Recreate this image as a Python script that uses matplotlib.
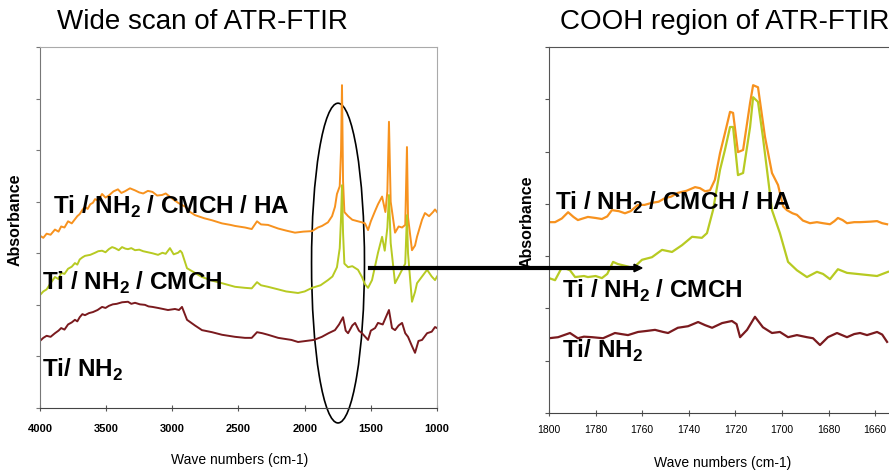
import matplotlib
matplotlib.use("Agg")
import matplotlib.pyplot as plt
from matplotlib.patches import Ellipse, FancyArrow

plt.rcParams['font.family'] = ['Liberation Sans', 'DejaVu Sans']
plt.rcParams['mathtext.fontset'] = 'custom'
plt.rcParams['mathtext.rm'] = 'Liberation Sans'
plt.rcParams['mathtext.bf'] = 'Liberation Sans:bold'

# ---- wide scan (4000-1000 cm-1) ----
wide_ha_wn = [4000, 3975, 3950, 3920, 3887, 3860, 3840, 3815, 3788, 3760, 3736, 3718, 3700, 3680,
              3660, 3640, 3620, 3600, 3584, 3560, 3531, 3505, 3480, 3445, 3411, 3385, 3360, 3320,
              3282, 3250, 3220, 3185, 3150, 3115, 3078, 3050, 3020, 2990, 2957, 2930, 2900, 2865,
              2829, 2760, 2700, 2625, 2560, 2526, 2451, 2400, 2360, 2330, 2277, 2200, 2140, 2073,
              2010, 1944, 1900, 1869, 1824, 1793, 1771, 1756, 1735, 1725, 1718, 1710, 1700, 1672,
              1640, 1597, 1567, 1544, 1521, 1500, 1468, 1446, 1415, 1390, 1375, 1363, 1350, 1317,
              1290, 1264, 1240, 1227, 1219, 1189, 1166, 1151, 1113, 1091, 1060, 1030, 1015, 1000]
wide_ha_abs = [3.34, 3.30, 3.38, 3.36, 3.46, 3.42, 3.52, 3.50, 3.62, 3.58, 3.66, 3.72, 3.76, 3.84,
               3.90, 3.86, 3.95, 3.98, 4.05, 4.02, 4.15, 4.08, 4.12, 4.20, 4.24, 4.17, 4.20, 4.26,
               4.22, 4.18, 4.16, 4.21, 4.19, 4.12, 4.13, 4.16, 4.10, 4.04, 3.98, 3.94, 3.90, 3.80,
               3.74, 3.68, 3.64, 3.58, 3.55, 3.53, 3.50, 3.47, 3.62, 3.56, 3.55, 3.48, 3.44, 3.40,
               3.42, 3.43, 3.50, 3.53, 3.60, 3.72, 3.90, 4.15, 4.30, 5.00, 6.26, 4.40, 3.80, 3.72,
               3.65, 3.62, 3.60, 3.58, 3.45, 3.62, 3.82, 3.95, 4.10, 3.80, 4.20, 5.55, 4.00, 3.40,
               3.52, 3.50, 3.55, 5.06, 3.70, 3.06, 3.15, 3.32, 3.65, 3.78, 3.72, 3.80, 3.85, 3.80]

wide_cmch_wn = [4000, 3975, 3950, 3920, 3887, 3860, 3840, 3815, 3788, 3760, 3736, 3718, 3700, 3680,
                3660, 3620, 3584, 3560, 3531, 3505, 3480, 3455, 3433, 3405, 3380, 3355, 3335, 3310,
                3282, 3250, 3220, 3185, 3150, 3108, 3075, 3050, 3018, 2990, 2957, 2940, 2927, 2889,
                2829, 2776, 2700, 2625, 2526, 2451, 2400, 2360, 2330, 2277, 2200, 2140, 2050, 2000,
                1944, 1880, 1824, 1790, 1771, 1756, 1735, 1725, 1718, 1710, 1700, 1672, 1640, 1597,
                1567, 1544, 1521, 1491, 1468, 1446, 1415, 1395, 1375, 1363, 1350, 1317, 1290, 1264,
                1240, 1227, 1219, 1189, 1166, 1151, 1113, 1075, 1040, 1015, 1000]
wide_cmch_abs = [2.19, 2.26, 2.30, 2.42, 2.54, 2.50, 2.62, 2.60, 2.70, 2.74, 2.81, 2.78, 2.88, 2.92,
                 2.95, 2.97, 3.01, 3.04, 3.05, 3.02, 3.08, 3.12, 3.10, 3.06, 3.12, 3.09, 3.08, 3.10,
                 3.06, 3.07, 3.04, 3.02, 3.00, 2.97, 3.01, 2.99, 3.10, 2.98, 3.01, 3.05, 3.01, 2.71,
                 2.62, 2.54, 2.47, 2.42, 2.35, 2.33, 2.32, 2.44, 2.38, 2.35, 2.30, 2.26, 2.23, 2.26,
                 2.33, 2.38, 2.48, 2.55, 2.65, 2.73, 3.10, 3.70, 4.32, 3.40, 2.80, 2.73, 2.75, 2.68,
                 2.54, 2.40, 2.33, 2.48, 2.75, 3.01, 3.32, 3.05, 3.50, 4.13, 3.20, 2.42, 2.55, 2.68,
                 2.80, 3.74, 3.00, 2.06, 2.25, 2.42, 2.55, 2.68, 2.55, 2.48, 2.55]

wide_nh2_wn = [4000, 3975, 3950, 3920, 3887, 3860, 3840, 3815, 3788, 3760, 3736, 3718, 3700, 3680,
               3660, 3630, 3600, 3565, 3531, 3505, 3480, 3450, 3420, 3380, 3335, 3310, 3282, 3245,
               3207, 3180, 3150, 3108, 3070, 3033, 2980, 2950, 2927, 2889, 2829, 2776, 2700, 2625,
               2526, 2451, 2400, 2360, 2320, 2277, 2200, 2100, 2050, 1990, 1930, 1870, 1820, 1771,
               1740, 1710, 1690, 1672, 1640, 1619, 1590, 1567, 1521, 1500, 1468, 1446, 1410, 1363,
               1340, 1317, 1290, 1264, 1240, 1219, 1189, 1166, 1140, 1113, 1075, 1040, 1015, 1000]
wide_nh2_abs = [1.30, 1.36, 1.40, 1.38, 1.45, 1.50, 1.55, 1.52, 1.62, 1.66, 1.71, 1.68, 1.76, 1.82,
                1.80, 1.84, 1.86, 1.90, 1.96, 1.94, 1.98, 2.01, 2.02, 2.05, 2.06, 2.02, 2.04, 2.01,
                2.00, 1.97, 1.96, 1.94, 1.92, 1.90, 1.92, 1.90, 1.96, 1.71, 1.60, 1.51, 1.47, 1.42,
                1.38, 1.36, 1.36, 1.47, 1.45, 1.42, 1.36, 1.32, 1.28, 1.30, 1.32, 1.38, 1.45, 1.51,
                1.62, 1.76, 1.50, 1.45, 1.60, 1.65, 1.50, 1.45, 1.32, 1.50, 1.55, 1.65, 1.62, 1.90,
                1.55, 1.51, 1.60, 1.65, 1.45, 1.38, 1.20, 1.07, 1.30, 1.32, 1.45, 1.48, 1.57, 1.55]

# ---- COOH region (1800-1650 cm-1) ----
cooh_ha_wn = [1800, 1797.4, 1794.5, 1791.8, 1789.5, 1787.6, 1785.5, 1783.3, 1780, 1777.3, 1775, 1773,
              1770, 1767.4, 1765, 1761.8, 1759, 1755.8, 1753, 1750.2, 1747.5, 1744.7, 1741, 1737.3,
              1735.2, 1733.0, 1730.9, 1728.8, 1726.6, 1724.5, 1722.3, 1721.0, 1718.9, 1716.7,
              1713.7, 1712.4, 1710.3, 1707.3, 1704.3, 1701.7, 1699.5, 1697.9, 1695.5, 1693.6, 1691,
              1688, 1685, 1682.4, 1679.4, 1677.5, 1676, 1674, 1672.1, 1669, 1666.5, 1662, 1659.2,
              1657, 1654.9]
cooh_ha_abs = [3.65, 3.65, 3.72, 3.84, 3.75, 3.69, 3.72, 3.75, 3.73, 3.71, 3.76, 3.88,
               3.86, 3.82, 3.86, 3.98, 3.98, 4.02, 4.04, 4.11, 4.14, 4.21, 4.25, 4.32,
               4.30, 4.24, 4.26, 4.46, 4.97, 5.35, 5.76, 5.74, 4.99, 5.03,
               5.93, 6.27, 6.23, 5.28, 4.59, 4.36, 3.95, 3.88, 3.82, 3.79, 3.68,
               3.63, 3.65, 3.63, 3.61, 3.67, 3.73, 3.69, 3.63, 3.65, 3.65, 3.66, 3.67,
               3.63, 3.61]

cooh_cmch_wn = [1800, 1797.4, 1794.4, 1791.0, 1788.8, 1785, 1783.3, 1780, 1777.3, 1775, 1772.5, 1770.5,
                1768.7, 1766, 1763.9, 1760.1, 1755.8, 1751.5, 1747.2, 1742.9, 1738.6, 1734.4, 1732.2,
                1729.6, 1726.6, 1724.5, 1722.3, 1721.0, 1718.9, 1716.7, 1713.7, 1712.4, 1710.3,
                1708.2, 1704.3, 1700.9, 1697.4, 1693.6, 1689.3, 1685.0, 1682.4, 1679.4, 1676.0,
                1672.1, 1667.8, 1663.5, 1659.2, 1654.5]
cooh_cmch_abs = [2.58, 2.54, 2.79, 2.73, 2.60, 2.62, 2.60, 2.62, 2.58, 2.66, 2.89, 2.85,
                 2.83, 2.80, 2.77, 2.93, 2.98, 3.12, 3.08, 3.21, 3.37, 3.35, 3.44,
                 3.88, 4.65, 5.03, 5.47, 5.47, 4.55, 4.59, 5.47, 6.04, 5.95,
                 5.28, 3.88, 3.44, 2.89, 2.73, 2.60, 2.70, 2.66, 2.56, 2.75,
                 2.68, 2.66, 2.64, 2.62, 2.70]

cooh_nh2_wn = [1800, 1796.1, 1791, 1787.6, 1785, 1781.5, 1776.8, 1771.7, 1769, 1766.1, 1761.8, 1758,
               1754.5, 1751, 1748.9, 1744.7, 1740.3, 1736.0, 1733, 1730.0, 1725.7, 1721.5, 1719.5,
               1718.0, 1715.0, 1711.6, 1708.2, 1704.3, 1700.9, 1697.4, 1693.6, 1689.3, 1686.7,
               1683.7, 1680.3, 1676.4, 1672.1, 1669, 1666.5, 1663.5, 1659.2, 1657, 1654.9]
cooh_nh2_abs = [1.43, 1.45, 1.53, 1.43, 1.46, 1.45, 1.43, 1.53, 1.51, 1.49, 1.55, 1.57,
                1.59, 1.55, 1.53, 1.63, 1.66, 1.74, 1.68, 1.63, 1.72, 1.76, 1.70,
                1.45, 1.59, 1.84, 1.64, 1.53, 1.55, 1.45, 1.49, 1.45, 1.43,
                1.30, 1.45, 1.53, 1.45, 1.51, 1.53, 1.49, 1.55, 1.50, 1.36]

c_ha = '#F7921E'
c_cmch = '#B7CA22'
c_nh2 = '#7A1A1E'

lab_ha = r'Ti / NH$_\mathbf{2}$ / CMCH / HA'
lab_cmch = r'Ti / NH$_\mathbf{2}$ / CMCH'
lab_nh2 = r'Ti/ NH$_\mathbf{2}$'

fig = plt.figure(figsize=(8.89, 4.72), dpi=100)
ax1 = fig.add_axes([40 / 889, 64 / 472, 397 / 889, 361 / 472])
ax2 = fig.add_axes([549 / 889, 59 / 472, 349.5 / 889, 366 / 472])

# left panel
ax1.plot(wide_ha_wn, wide_ha_abs, color=c_ha, lw=1.4)
ax1.plot(wide_cmch_wn, wide_cmch_abs, color=c_cmch, lw=1.4)
ax1.plot(wide_nh2_wn, wide_nh2_abs, color=c_nh2, lw=1.4)
ax1.set_xlim(4000, 1000)
ax1.set_ylim(0, 7)
ax1.set_xticks([4000, 3500, 3000, 2500, 2000, 1500, 1000])
ax1.set_yticks(range(8))
ax1.set_yticklabels([])
for lab in ax1.get_xticklabels():
    lab.set_fontweight('bold')
    lab.set_fontsize(8)
for sp in ax1.spines.values():
    sp.set_color('#aaaaaa')
ax1.spines['left'].set_color('#777777')
ax1.spines['bottom'].set_color('#444444')
ax1.tick_params(axis='x', direction='inout', length=5, color='#555555', pad=9)
ax1.tick_params(axis='y', direction='out', length=3, color='#777777')

ax1.text(3902, 3.76, lab_ha, fontsize=17.5, fontweight='bold', va='baseline', zorder=5)
ax1.text(3985, 2.29, lab_cmch, fontsize=17.5, fontweight='bold', va='baseline', zorder=5)
ax1.text(3985, 0.60, lab_nh2, fontsize=17.5, fontweight='bold', va='baseline', zorder=5)

ax1.add_patch(Ellipse((1748, 2.81), 400, 6.2, fill=False, ec='black', lw=1.2, clip_on=False))

# right panel
ax2.plot(cooh_ha_wn, cooh_ha_abs, color=c_ha, lw=1.6)
ax2.plot(cooh_cmch_wn, cooh_cmch_abs, color=c_cmch, lw=1.6)
ax2.plot(cooh_nh2_wn, cooh_nh2_abs, color=c_nh2, lw=1.6)
ax2.set_xlim(1800, 1650)
ax2.set_ylim(0, 7)
ax2.set_xticks([1800, 1780, 1760, 1740, 1720, 1700, 1680, 1660])
ax2.set_yticks(range(8))
ax2.set_yticklabels([])
for lab in ax2.get_xticklabels():
    lab.set_fontsize(7.5)
for sp in ax2.spines.values():
    sp.set_color('#555555')
ax2.spines['bottom'].set_color('#444444')
ax2.tick_params(axis='x', direction='inout', length=5, color='#555555', pad=6)
ax2.tick_params(axis='y', direction='out', length=3, color='#555555')

ax2.text(1797.4, 3.88, lab_ha, fontsize=17.5, fontweight='bold', va='baseline', zorder=5)
ax2.text(1794.4, 2.20, lab_cmch, fontsize=17.5, fontweight='bold', va='baseline', zorder=5)
ax2.text(1794.4, 1.05, lab_nh2, fontsize=17.5, fontweight='bold', va='baseline', zorder=5)

# titles and axis labels
fig.text(57 / 889, 1 - 29 / 472, 'Wide scan of ATR-FTIR', fontsize=20, va='baseline')
fig.text(560 / 889, 1 - 29 / 472, 'COOH region of ATR-FTIR', fontsize=20, va='baseline')
fig.text(240 / 889, 1 - 460 / 472, 'Wave numbers (cm-1)', fontsize=10,
         ha='center', va='center')
fig.text(723 / 889, 1 - 463 / 472, 'Wave numbers (cm-1)', fontsize=10,
         ha='center', va='center')
fig.text(15 / 889, 1 - 220 / 472, 'Absorbance', fontsize=11.5, fontweight='bold',
         rotation=90, ha='center', va='center')
fig.text(527 / 889, 1 - 222 / 472, 'Absorbance', fontsize=11.5, fontweight='bold',
         rotation=90, ha='center', va='center')

# arrow linking the circled band to the zoomed region
fig.add_artist(plt.Line2D([370 / 889, 636 / 889], [1 - 268 / 472, 1 - 268 / 472],
                          color='black', lw=3, zorder=10))
fig.patches.append(FancyArrow(
    634 / 889, 1 - 268 / 472, 8 / 889, 0, width=0.0, head_width=0.016, head_length=8 / 889,
    length_includes_head=True, color='black', transform=fig.transFigure, figure=fig, zorder=10))

fig.savefig('out.png', dpi=100)
